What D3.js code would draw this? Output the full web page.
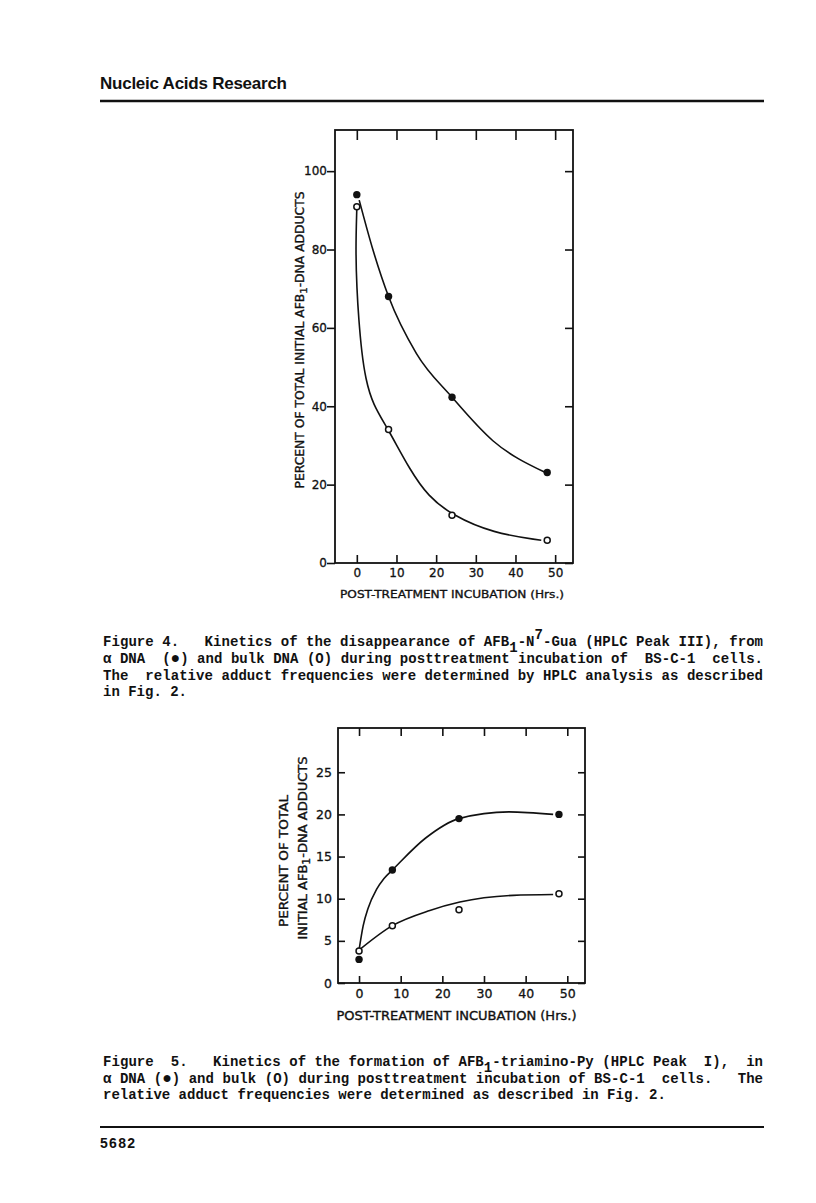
<!DOCTYPE html>
<html>
<head>
<meta charset="utf-8">
<script src="https://cdn.jsdelivr.net/npm/d3@7"></script>
<style>
body { margin: 0; background: #fff; }
svg text { fill: #111; }
.cap { font-family: "Liberation Mono", monospace; font-weight: bold; font-size: 14px; white-space: pre; }
.lab { font-family: "DejaVu Sans", sans-serif; stroke: #111; stroke-width: 0.35px; }
</style>
</head>
<body>
<svg id="page"></svg>
<script>
const hours = [0, 8, 24, 48];
const xTicks = [0, 10, 20, 30, 40, 50];

// Fig. 4: AFB1-N7-Gua, percent of initial adducts
const guaTicks = [0, 20, 40, 60, 80, 100];
const guaAlpha = [94, 68, 42.3, 23.1];
const guaBulk = [90.9, 34.1, 12.2, 5.8];
// hand drawn curves
const guaAlphaFitHours = [0.6, 4.1, 8, 15, 24, 34.3, 47.3];
const guaAlphaFit = [92.6, 79.8, 68, 53.5, 42.3, 31.2, 23.2];
const guaBulkFitHours = [0, -0.3, 0, 0.5, 1.2, 2.2, 4, 8, 13.4, 18, 24, 34.3, 46.5];
const guaBulkFit = [90.5, 80, 70, 62, 54, 47, 40.5, 34, 23.7, 17, 12.2, 7.6, 5.8];

// Fig. 5: AFB1-triamino-Py
const pyTicks = [0, 5, 10, 15, 20, 25];
const pyAlpha = [2.8, 13.4, 19.5, 20];
const pyBulk = [3.8, 6.8, 8.7, 10.6];
const pyAlphaFitHours = [0, 1, 2.2, 4.2, 6, 8, 16, 24, 36, 46.6];
const pyAlphaFit = [3.9, 6.8, 8.9, 11.1, 12.4, 13.4, 17.2, 19.5, 20.3, 20.0];
const pyBulkFitHours = [0, 8, 17, 24.2, 37, 46.6];
const pyBulkFit = [3.9, 6.8, 8.6, 9.6, 10.4, 10.5];

const svg = d3.select("#page").attr("width", 816).attr("height", 1203);
svg.append("rect").attr("width", 816).attr("height", 1203).attr("fill", "#fff");

// header / footer
svg.append("text").attr("x", 100).attr("y", 89)
    .style("font-family", "Liberation Sans").style("font-weight", "bold").style("font-size", "17px")
    .attr("textLength", 187).text("Nucleic Acids Research");
svg.append("line").attr("x1", 100).attr("x2", 764).attr("y1", 101).attr("y2", 101)
    .attr("stroke", "#111").attr("stroke-width", 2.6);
svg.append("line").attr("x1", 100).attr("x2", 764).attr("y1", 1127).attr("y2", 1127)
    .attr("stroke", "#111").attr("stroke-width", 2);
svg.append("text").attr("x", 100).attr("y", 1148)
    .style("font-family", "Liberation Sans").style("font-weight", "bold").style("font-size", "14px")
    .attr("textLength", 35).text("5682");

const curves = {basis: d3.curveBasis, mono: d3.curveMonotoneX};

const panel = (o) => {
    const g = svg.append("g").attr("transform", `translate(${o.left},${o.top})`);
    const x = d3.scaleLinear().domain(o.xDomain).range([0, o.width]);
    const y = d3.scaleLinear().domain(o.yDomain).range([o.height, 0]);

    g.append("g").attr("transform", `translate(0,${o.height})`)
        .call(d3.axisBottom(x).tickValues(xTicks).tickSize(-o.tick).tickPadding(o.xPad));
    g.append("g")
        .call(d3.axisTop(x).tickValues(xTicks).tickSize(-o.topTick).tickFormat(""));
    g.append("g")
        .call(d3.axisLeft(y).tickValues(o.yTicks).tickSize(o.leftTick).tickPadding(o.yPad));
    g.append("g").attr("transform", `translate(${o.width},0)`)
        .call(d3.axisRight(y).tickValues(o.yTicks).tickSize(-o.tick).tickFormat(""));
    g.selectAll(".domain").remove();
    g.selectAll(".tick line").attr("stroke", "#111").attr("stroke-width", 1.6);
    g.selectAll(".tick text").attr("fill", "#111").attr("stroke", "#111").attr("stroke-width", 0.3)
        .style("font-family", "DejaVu Sans").style("font-size", o.tickFont + "px");

    g.append("rect").attr("width", o.width).attr("height", o.height)
        .attr("fill", "none").attr("stroke", "#111").attr("stroke-width", 1.8);

    o.fits.forEach(f => {
        const line = d3.line().curve(curves[f[2]])
            .x(d => x(d[0])).y(d => y(d[1]));
        g.append("path").datum(d3.zip(f[0], f[1]))
            .attr("d", line).attr("fill", "none")
            .attr("stroke", "#111").attr("stroke-width", 1.6);
    });

    g.selectAll(".bulk").data(d3.zip(hours, o.bulk)).join("circle")
        .attr("class", "bulk")
        .attr("cx", d => x(d[0])).attr("cy", d => y(d[1])).attr("r", 3)
        .attr("fill", "#fff").attr("stroke", "#111").attr("stroke-width", 1.5);
    g.selectAll(".alpha").data(d3.zip(hours, o.alpha)).join("circle")
        .attr("class", "alpha")
        .attr("cx", d => x(d[0])).attr("cy", d => y(d[1])).attr("r", 3.7)
        .attr("fill", "#111");

    g.append("text").attr("class", "lab")
        .attr("x", o.width / 2 + o.xLabel.dx).attr("y", o.height + o.xLabel.dy)
        .attr("text-anchor", "middle").style("font-size", o.xLabel.size + "px")
        .attr("textLength", o.xLabel.len).attr("lengthAdjust", "spacingAndGlyphs")
        .text("POST-TREATMENT INCUBATION (Hrs.)");

    o.yLabel.forEach(l => {
        const t = g.append("text").attr("class", "lab")
            .attr("transform", `translate(${l.x - o.left},${l.y - o.top}) rotate(-90)`)
            .attr("text-anchor", "middle").style("font-size", l.size + "px")
            .attr("textLength", l.len).attr("lengthAdjust", "spacingAndGlyphs");
        l.parts.forEach((p, i) => {
            t.append("tspan").attr("dy", i === 0 ? 0 : (i % 2 ? 3 : -3))
                .style("font-size", i % 2 ? (l.size - 2) + "px" : null).text(p);
        });
    });
};

panel({
    left: 335, top: 130, width: 238, height: 433,
    xDomain: [-5.5, 54.5], yDomain: [0, 110.5],
    yTicks: guaTicks, tick: 8, topTick: 10, leftTick: 8, xPad: 5, yPad: 0, tickFont: 12,
    alpha: guaAlpha, bulk: guaBulk,
    fits: [[guaAlphaFitHours, guaAlphaFit, "mono"], [guaBulkFitHours, guaBulkFit, "basis"]],
    xLabel: {dx: -2, dy: 35, size: 11, len: 224},
    yLabel: [{x: 303.5, y: 340, size: 11.5, len: 297,
        parts: ["PERCENT OF TOTAL INITIAL AFB", "1", "-DNA ADDUCTS"]}]
});

panel({
    left: 338, top: 728, width: 247, height: 255,
    xDomain: [-5.05, 54.25], yDomain: [0, 30.25],
    yTicks: pyTicks, tick: 7, topTick: 8, leftTick: -7, xPad: 6, yPad: 6, tickFont: 12.5,
    alpha: pyAlpha, bulk: pyBulk,
    fits: [[pyAlphaFitHours, pyAlphaFit, "mono"], [pyBulkFitHours, pyBulkFit, "mono"]],
    xLabel: {dx: -5, dy: 37, size: 11.5, len: 240},
    yLabel: [
        {x: 287.5, y: 861, size: 12, len: 132, parts: ["PERCENT OF TOTAL"]},
        {x: 306.5, y: 848, size: 12, len: 183, parts: ["INITIAL AFB", "1", "-DNA ADDUCTS"]}
    ]
});

// captions, typewriter style; [text, baseline shift, size]
const caption = (y, parts, justify) => {
    const t = svg.append("text").attr("class", "cap").attr("x", 103).attr("y", y);
    let shift = 0;
    parts.forEach(p => {
        const s = Array.isArray(p) ? p : [p, 0];
        const ts = t.append("tspan").attr("dy", s[1] - shift).text(s[0]);
        if (s[2]) ts.style("font-size", s[2] + "px");
        shift = s[1];
    });
    if (justify) t.attr("textLength", 660).attr("lengthAdjust", "spacing");
};

caption(646, ["Figure 4.   Kinetics of the disappearance of AFB", ["1", 6], "-N", ["7", -7], "-Gua (HPLC Peak III), from"], true);
caption(663, ["\u03b1 DNA  (", ["\u25cf", 0, 16], ") and bulk DNA (O) during posttreatment incubation of  BS-C-1  cells."], true);
caption(680, ["The  relative adduct frequencies were determined by HPLC analysis as described"], true);
caption(696, ["in Fig. 2."], false);

caption(1066, ["Figure  5.   Kinetics of the formation of AFB", ["1", 6], "-triamino-Py (HPLC Peak  I),  in"], true);
caption(1083, ["\u03b1 DNA (", ["\u25cf", 0, 16], ") and bulk (O) during posttreatment incubation of BS-C-1  cells.   The"], true);
caption(1099, ["relative adduct frequencies were determined as described in Fig. 2."], false);
</script>
</body>
</html>
